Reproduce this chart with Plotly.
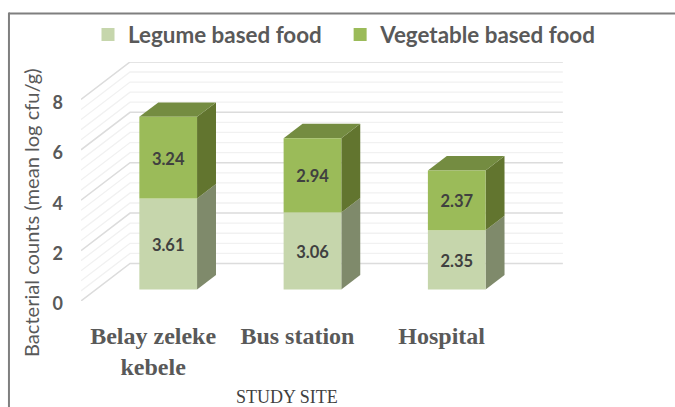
import numpy as np
import plotly.graph_objects as go

sites = ['Belay zeleke<br>kebele', 'Bus station', 'Hospital']
legume = [3.61, 3.06, 2.35]
vegetable = [3.24, 2.94, 2.37]
y_ticks = [0, 2, 4, 6, 8]

# oblique look of the Excel 3D chart, in axis units
DEPTH_X = 0.34
DEPTH_Y = 1.488
BAR_HALF = 0.2
BAR_FRONT = 0.307
BAR_BACK = 0.693
LABEL_DROP = 0.11  # Lato sits high in its line box

LEGUME = dict(front='#C6D6AC', side='#7F8A6B')
VEG = dict(front='#9BBB59', side='#62752F', top='#748C41')
GRID_MAJOR = '#DCDCDC'
GRID_MINOR = '#F1F1F1'
TEXT = '#595959'

W, H = 675, 407
L, R, T, B = 81, 12.3, 62, 106


def project(pos, value, depth):
    return pos + depth * DEPTH_X, value + depth * DEPTH_Y


def polygon(fig, corners, color):
    pts = [project(*c) for c in corners]
    fig.add_trace(go.Scatter(
        x=[p[0] for p in pts],
        y=[p[1] for p in pts],
        mode='lines',
        fill='toself',
        fillcolor=color,
        line=dict(width=0),
        showlegend=False,
        hoverinfo='skip',
    ))


def wall_lines(fig, values, color, width):
    xs, ys = [], []
    for v in values:
        a = project(-0.5, v, 0)
        b = project(-0.5, v, 1)
        c = project(2.5, v, 1)
        xs += [a[0], b[0], c[0], None]
        ys += [a[1], b[1], c[1], None]
    fig.add_trace(go.Scatter(
        x=xs, y=ys, mode='lines',
        line=dict(color=color, width=width),
        showlegend=False, hoverinfo='skip',
    ))


def paper_x(px):
    return (px - L) / (W - L - R)


def paper_y(py):
    return (H - B - py) / (H - T - B)


def legend_at(px):
    return dict(
        orientation='h',
        xanchor='left', x=paper_x(px),
        yanchor='middle', y=paper_y(35),
        font=dict(family='Lato', size=22.4, color=TEXT, weight='bold'),
        bgcolor='rgba(0,0,0,0)',
    )


fig = go.Figure()

wall_lines(fig, [v for v in np.arange(0, 8.01, 0.4) if round(v, 1) % 2 != 0], GRID_MINOR, 1.3)
wall_lines(fig, y_ticks, GRID_MAJOR, 1.5)

for i in range(len(sites)):
    x0, x1 = i - BAR_HALF, i + BAR_HALF
    mid = legume[i]
    top = legume[i] + vegetable[i]
    polygon(fig, [(x1, 0, BAR_FRONT), (x1, 0, BAR_BACK), (x1, mid, BAR_BACK), (x1, mid, BAR_FRONT)], LEGUME['side'])
    polygon(fig, [(x1, mid, BAR_FRONT), (x1, mid, BAR_BACK), (x1, top, BAR_BACK), (x1, top, BAR_FRONT)], VEG['side'])
    polygon(fig, [(x0, top, BAR_FRONT), (x1, top, BAR_FRONT), (x1, top, BAR_BACK), (x0, top, BAR_BACK)], VEG['top'])
    polygon(fig, [(x0, 0, BAR_FRONT), (x1, 0, BAR_FRONT), (x1, mid, BAR_FRONT), (x0, mid, BAR_FRONT)], LEGUME['front'])
    polygon(fig, [(x0, mid, BAR_FRONT), (x1, mid, BAR_FRONT), (x1, top, BAR_FRONT), (x0, top, BAR_FRONT)], VEG['front'])

    for base, val in ((0, legume[i]), (mid, vegetable[i])):
        lx, ly = project(i, base + val / 2 - LABEL_DROP, BAR_FRONT)
        fig.add_trace(go.Scatter(
            x=[lx], y=[ly], mode='text',
            text=[f'{val:.2f}'],
            textposition='middle center',
            textfont=dict(family='Lato', size=16.5, color='#404040', weight='bold'),
            showlegend=False, hoverinfo='skip',
        ))

# legend entries only, one legend each so they can sit apart
fig.add_trace(go.Scatter(
    x=[None], y=[None], mode='markers', name='Legume based food', legend='legend',
    marker=dict(symbol='square', size=13, color=LEGUME['front']),
))
fig.add_trace(go.Scatter(
    x=[None], y=[None], mode='markers', name='Vegetable based food', legend='legend2',
    marker=dict(symbol='square', size=13, color=VEG['front']),
))

fig.update_layout(
    width=W,
    height=H,
    margin=dict(l=L, r=R, t=T, b=B, pad=0, autoexpand=False),
    paper_bgcolor='white',
    plot_bgcolor='white',
    showlegend=True,
    legend=legend_at(88),
    legend2=legend_at(340),
    xaxis=dict(
        range=[-0.5, 3.534],
        tickvals=list(range(len(sites))),
        ticktext=sites,
        tickangle=0,
        ticklabelstandoff=18,
        tickfont=dict(family='Liberation Serif', size=24, color=TEXT, weight='bold'),
        showgrid=False, zeroline=False, showline=False, ticks='',
    ),
    yaxis=dict(
        range=[0, 9.484],
        tickvals=y_ticks,
        ticklabelstandoff=17,
        ticklabelshift=3,
        tickfont=dict(family='Lato', size=18, color=TEXT, weight='bold'),
        showgrid=False, zeroline=False, showline=False, ticks='',
    ),
    annotations=[
        dict(text='Bacterial counts (mean log cfu/g)', xref='paper', yref='paper',
             x=paper_x(31), y=paper_y(212), textangle=-90, showarrow=False,
             xanchor='center', yanchor='middle',
             font=dict(family='Lato', size=20.1, color=TEXT)),
        dict(text='STUDY SITE', xref='paper', yref='paper',
             x=paper_x(287), y=paper_y(397), showarrow=False,
             xanchor='center', yanchor='middle',
             font=dict(family='Liberation Serif', size=18, color='#404040')),
    ],
    shapes=[
        dict(type='line', xref='paper', yref='paper', x0=paper_x(9), x1=paper_x(675),
             y0=paper_y(13.5), y1=paper_y(13.5), line=dict(color='#7F7F7F', width=2)),
        dict(type='line', xref='paper', yref='paper', x0=paper_x(9), x1=paper_x(9),
             y0=paper_y(12.5), y1=paper_y(407), line=dict(color='#7F7F7F', width=2)),
    ],
)

fig.write_html('out.html', config=dict(displayModeBar=False),
               post_script="document.body.style.margin='0'")
